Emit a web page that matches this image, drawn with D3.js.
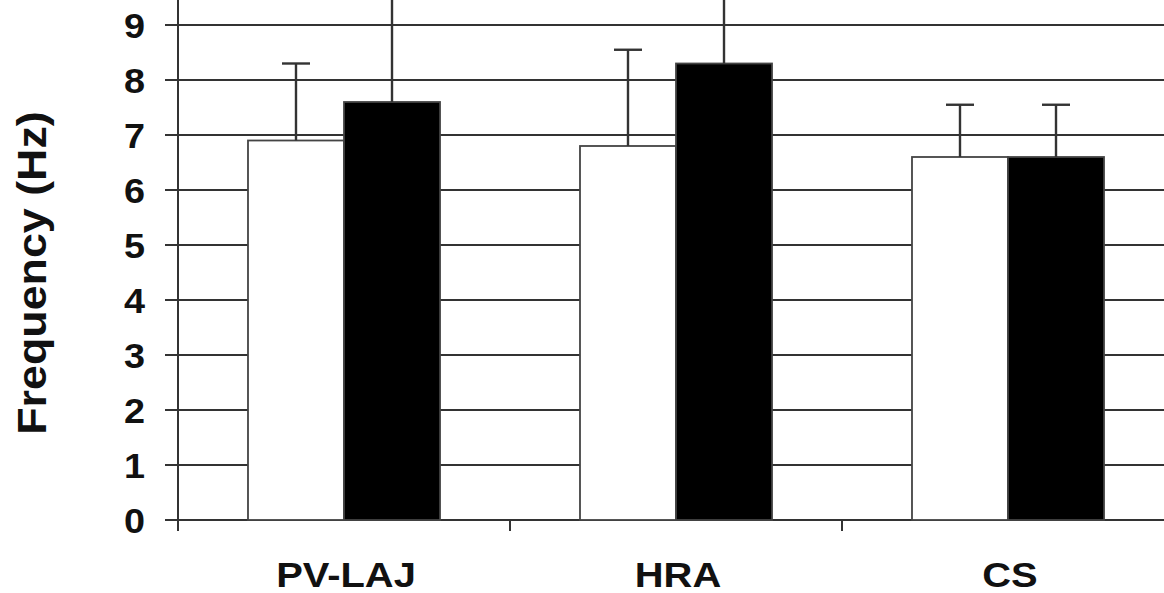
<!DOCTYPE html>
<html>
<head>
<meta charset="utf-8">
<script src="https://cdn.jsdelivr.net/npm/d3@7"></script>
<style>
  html, body { margin: 0; padding: 0; background: #fff; }
  svg { display: block; }
  text { font-family: "Liberation Sans", Arial, sans-serif; font-weight: bold; fill: #111; }
</style>
</head>
<body>
<svg id="chart" width="1164" height="593"></svg>
<script>
// Mean dominant frequency per recording site, two groups, with SD error bars
const categories = ["PV-LAJ", "HRA", "CS"];
const seriesNames = ["group1", "group2"];
const meansGroup1 = [6.9, 6.8, 6.6];
const meansGroup2 = [7.6, 8.3, 6.6];
const sdGroup1 = [1.4, 1.75, 0.95];
const sdGroup2 = [2.3, 2.2, 0.95];
const yTicks = [0, 1, 2, 3, 4, 5, 6, 7, 8, 9, 10];

const svg = d3.select("#chart");
const W = 1164, H = 593;

const x0 = d3.scaleBand().domain(categories).range([178, 1174]).paddingInner(0).paddingOuter(0);
const x1 = d3.scaleBand().domain(seriesNames).range([0, x0.bandwidth()]).paddingInner(0).paddingOuter(0.729);
const y = d3.scaleLinear().domain([0, 10]).range([520, -30]);

const fills = { group1: "#ffffff", group2: "#000000" };
const means = { group1: meansGroup1, group2: meansGroup2 };
const sds = { group1: sdGroup1, group2: sdGroup2 };

const rows = [];
categories.forEach((c, i) => {
  seriesNames.forEach(s => rows.push({ cat: c, series: s, mean: means[s][i], sd: sds[s][i] }));
});

// horizontal gridlines, extending past the value axis as tick marks
svg.append("g")
  .selectAll("line")
  .data(yTicks)
  .join("line")
  .attr("x1", 165).attr("x2", W)
  .attr("y1", d => y(d)).attr("y2", d => y(d))
  .attr("stroke", "#333").attr("stroke-width", 2);

// value axis line
svg.append("line")
  .attr("x1", 178).attr("x2", 178)
  .attr("y1", y(10)).attr("y2", y(0) + 11)
  .attr("stroke", "#333").attr("stroke-width", 2);

// category boundary ticks below the baseline
svg.append("g")
  .selectAll("line")
  .data(categories)
  .join("line")
  .attr("x1", d => x0(d) + x0.step())
  .attr("x2", d => x0(d) + x0.step())
  .attr("y1", y(0)).attr("y2", y(0) + 11)
  .attr("stroke", "#333").attr("stroke-width", 2);

// bars
svg.append("g")
  .selectAll("rect")
  .data(rows)
  .join("rect")
  .attr("x", d => x0(d.cat) + x1(d.series))
  .attr("width", x1.bandwidth())
  .attr("y", d => y(d.mean))
  .attr("height", d => y(0) - y(d.mean))
  .attr("fill", d => fills[d.series])
  .attr("stroke", "#444").attr("stroke-width", 1.8);

// error bars (upper whisker only)
const eb = svg.append("g").attr("stroke", "#333").attr("stroke-width", 2.4);
eb.selectAll("line.whisker")
  .data(rows)
  .join("line")
  .attr("class", "whisker")
  .attr("x1", d => x0(d.cat) + x1(d.series) + x1.bandwidth() / 2)
  .attr("x2", d => x0(d.cat) + x1(d.series) + x1.bandwidth() / 2)
  .attr("y1", d => y(d.mean))
  .attr("y2", d => y(d.mean + d.sd));
eb.selectAll("line.cap")
  .data(rows)
  .join("line")
  .attr("class", "cap")
  .attr("x1", d => x0(d.cat) + x1(d.series) + x1.bandwidth() / 2 - 14)
  .attr("x2", d => x0(d.cat) + x1(d.series) + x1.bandwidth() / 2 + 14)
  .attr("y1", d => y(d.mean + d.sd))
  .attr("y2", d => y(d.mean + d.sd));

// tick labels
svg.append("g")
  .selectAll("text")
  .data(yTicks.filter(d => d <= 9))
  .join("text")
  .attr("transform", d => `translate(145,${y(d)}) scale(1.08,1)`)
  .attr("dy", "0.36em")
  .attr("text-anchor", "end")
  .style("font-size", "35px")
  .text(d => d);

// category labels, set slightly wide
svg.append("g")
  .selectAll("text")
  .data(categories)
  .join("text")
  .attr("transform", d => `translate(${x0(d) + x0.bandwidth() / 2 + 2},587) scale(1.14,1)`)
  .attr("text-anchor", "middle")
  .style("font-size", "35px")
  .text(d => d);

// value axis title
svg.append("text")
  .attr("transform", "translate(46,273) rotate(-90) scale(1.12,1)")
  .attr("text-anchor", "middle")
  .style("font-size", "40px")
  .text("Frequency (Hz)");
</script>
</body>
</html>
